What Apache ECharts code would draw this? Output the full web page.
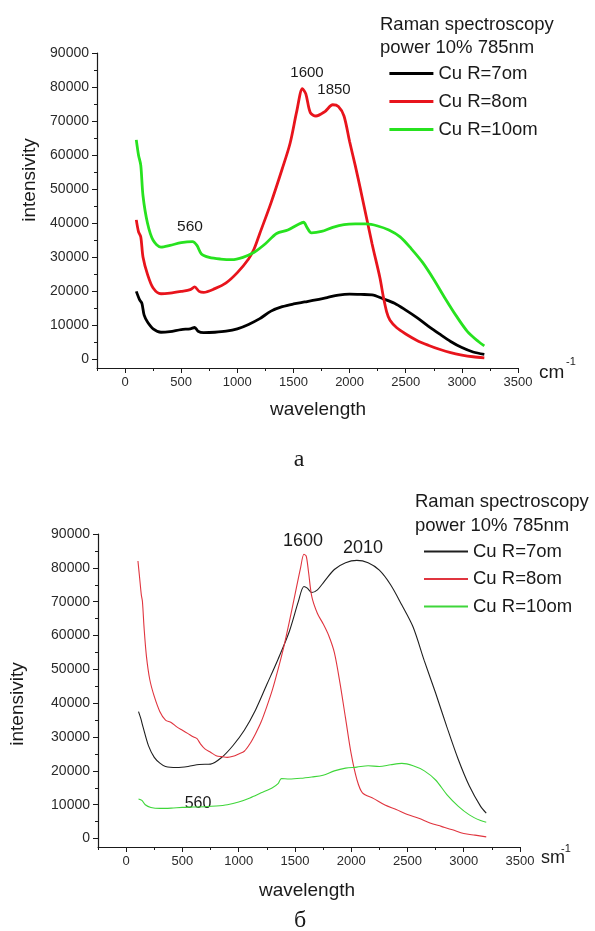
<!DOCTYPE html>
<html>
<head>
<meta charset="utf-8">
<script src="https://cdn.jsdelivr.net/npm/echarts@6/dist/echarts.min.js"></script>
<style>
  html, body { margin: 0; padding: 0; background: #fff; }
  #chart { width: 595px; height: 931px; }
</style>
</head>
<body>
<div id="chart"></div>
<script>
// axis ticks
const xTicks = [0, 500, 1000, 1500, 2000, 2500, 3000, 3500]
const xMinor = [-250, 250, 750, 1250, 1750, 2250, 2750, 3250]
const yTicks = [0, 10000, 20000, 30000, 40000, 50000, 60000, 70000, 80000, 90000]
const yMinor = [5000, 15000, 25000, 35000, 45000, 55000, 65000, 75000, 85000]

const seriesNames = ['Cu R=7om', 'Cu R=8om', 'Cu R=10om']

// (a) upper chart
const topWave7 = [100, 130, 150, 170, 200, 250, 320, 400, 500, 580, 620, 650, 700, 800, 900, 1000, 1100, 1200, 1300, 1400, 1500, 1600, 1700, 1800, 1900, 2000, 2100, 2200, 2300, 2400, 2500, 2600, 2700, 2800, 2900, 3000, 3100, 3200]
const topInt7 = [20000, 17500, 16500, 13000, 11000, 9000, 8000, 8200, 8800, 9000, 9400, 8300, 7900, 8000, 8300, 9000, 10300, 12000, 14200, 15500, 16300, 16900, 17500, 18200, 18900, 19200, 19100, 19000, 17800, 16500, 14500, 12300, 9800, 7500, 5300, 3500, 2200, 1500]

const topWave8 = [100, 120, 140, 160, 200, 250, 320, 400, 500, 580, 620, 660, 700, 800, 900, 1000, 1100, 1150, 1200, 1300, 1400, 1470, 1530, 1580, 1610, 1650, 1700, 1780, 1850, 1900, 1950, 2000, 2050, 2100, 2200, 2270, 2300, 2330, 2360, 2420, 2500, 2600, 2700, 2800, 2900, 3000, 3100, 3200]
const topInt8 = [41000, 37500, 36000, 30000, 25000, 21000, 19300, 19500, 20000, 20500, 21300, 20000, 19700, 20800, 22500, 25500, 29500, 32500, 37000, 46000, 56000, 63500, 73000, 79500, 78000, 72500, 71500, 72800, 74800, 74300, 71500, 64000, 57000, 49500, 34000, 24000, 18500, 14000, 11500, 9300, 7500, 5600, 4200, 3000, 2000, 1300, 800, 500]

const topWave10 = [100, 120, 140, 160, 200, 250, 320, 400, 500, 600, 640, 680, 750, 850, 950, 1050, 1150, 1250, 1350, 1450, 1550, 1590, 1620, 1660, 1750, 1850, 1950, 2050, 2150, 2250, 2350, 2450, 2550, 2650, 2750, 2850, 2950, 3050, 3150, 3200]
const topInt10 = [64500, 60000, 57000, 48000, 40000, 35000, 33000, 33500, 34300, 34600, 33500, 31000, 30000, 29500, 29300, 30000, 31500, 34000, 37000, 38000, 39800, 40300, 38800, 37200, 37600, 38800, 39600, 39800, 39800, 39200, 38000, 36000, 32500, 28500, 23500, 18000, 12800, 8200, 5200, 4000]

// (б) lower chart
const botWave7 = [110, 130, 150, 200, 250, 300, 350, 450, 550, 650, 750, 850, 950, 1050, 1150, 1250, 1350, 1450, 1530, 1580, 1610, 1650, 1700, 1750, 1850, 1950, 2050, 2150, 2250, 2350, 2450, 2550, 2650, 2750, 2850, 2950, 3050, 3150, 3200]
const botInt7 = [37500, 35500, 33000, 27300, 24000, 22300, 21300, 21000, 21300, 21900, 22000, 24000, 27500, 32000, 38000, 45500, 53000, 61200, 70000, 74500, 74000, 72700, 73500, 75500, 79500, 81500, 82200, 81500, 79300, 75000, 69000, 62500, 52500, 43000, 33000, 23500, 15500, 9500, 7500]

const botWave8 = [105, 120, 135, 145, 160, 180, 210, 250, 300, 350, 400, 450, 500, 550, 600, 630, 660, 700, 750, 800, 850, 900, 950, 1000, 1050, 1100, 1150, 1200, 1250, 1300, 1350, 1400, 1450, 1500, 1550, 1580, 1600, 1620, 1650, 1700, 1750, 1800, 1850, 1900, 1950, 2000, 2050, 2100, 2200, 2300, 2400, 2500, 2600, 2700, 2800, 2900, 3000, 3100, 3200]
const botInt8 = [82000, 77000, 72000, 70000, 62000, 54000, 47000, 42000, 37500, 35000, 34300, 33000, 32000, 31000, 30000, 29500, 28000, 26500, 25500, 24500, 24200, 24000, 24300, 25000, 25800, 28000, 31000, 34500, 39000, 44000, 50000, 56500, 64000, 72000, 80000, 84000, 83500, 79000, 71500, 66500, 63500, 60000, 55000, 46000, 35500, 25000, 17500, 13500, 11800, 9900, 8600, 7100, 6000, 4600, 3600, 2600, 1500, 1000, 500]

const botWave10 = [110, 140, 170, 220, 300, 400, 500, 600, 700, 800, 900, 1000, 1100, 1200, 1300, 1350, 1380, 1450, 1550, 1650, 1750, 1850, 1950, 2050, 2150, 2250, 2350, 2450, 2550, 2650, 2750, 2850, 2950, 3050, 3150, 3200]
const botInt10 = [11700, 11300, 10000, 9200, 8900, 9000, 9200, 9300, 9400, 9600, 10000, 10800, 12000, 13500, 15000, 16200, 17700, 17600, 17800, 18200, 18700, 20000, 20800, 21100, 21500, 21300, 21800, 22200, 21500, 20000, 17300, 13000, 9600, 7000, 5300, 4800]

const FONT = '"Liberation Sans", Arial, sans-serif'
const AXIS_COLOR = '#1a1a1a'
const LABEL_COLOR = '#2a2a2a'

function pairs(xs, ys) {
  return xs.map((x, i) => [x, ys[i]])
}

const plain = v => String(v)

// main axis (line, major ticks, labels) + an overlay axis for the minor ticks
function makeXAxes(gridIndex) {
  return [
    {
      type: 'value', gridIndex, position: 'bottom', min: -250, max: 3500,
      axisLine: { onZero: false, lineStyle: { color: AXIS_COLOR, width: 1.2 } },
      axisTick: { customValues: xTicks, length: 5, lineStyle: { color: AXIS_COLOR } },
      axisLabel: { customValues: xTicks, formatter: plain, color: LABEL_COLOR, fontSize: 13, fontFamily: FONT, margin: 8 },
      splitLine: { show: false }
    },
    {
      type: 'value', gridIndex, position: 'bottom', min: -250, max: 3500,
      axisLine: { show: false, onZero: false },
      axisTick: { customValues: xMinor, length: 3, lineStyle: { color: AXIS_COLOR } },
      axisLabel: { show: false },
      splitLine: { show: false }
    }
  ]
}

function makeYAxes(gridIndex) {
  return [
    {
      type: 'value', gridIndex, position: 'left', min: -2500, max: 90000,
      axisLine: { show: true, onZero: false, lineStyle: { color: AXIS_COLOR, width: 1.2 } },
      axisTick: { show: true, customValues: yTicks, length: 5, lineStyle: { color: AXIS_COLOR } },
      axisLabel: { customValues: yTicks, formatter: plain, color: LABEL_COLOR, fontSize: 14, fontFamily: FONT, margin: 8 },
      splitLine: { show: false }
    },
    {
      type: 'value', gridIndex, position: 'left', min: -2500, max: 90000,
      axisLine: { show: false, onZero: false },
      axisTick: { show: true, customValues: yMinor, length: 3, lineStyle: { color: AXIS_COLOR } },
      axisLabel: { show: false },
      splitLine: { show: false }
    }
  ]
}

function lineSeries(name, axisIndex, data, color, width) {
  return {
    name, type: 'line', xAxisIndex: axisIndex, yAxisIndex: axisIndex,
    data, showSymbol: false, symbol: 'none', smooth: 0.3,
    lineStyle: { color, width }, itemStyle: { color }
  }
}

function text(x, y, str, size, extra) {
  return {
    type: 'text', x, y, silent: true,
    style: Object.assign({
      text: str, fontSize: size, fontFamily: FONT, fill: '#1a1a1a',
      align: 'center', verticalAlign: 'middle'
    }, extra || {})
  }
}

const chart = echarts.init(document.getElementById('chart'))

const option = {
  backgroundColor: '#fff',
  animation: false,
  grid: [
    { left: 97, top: 53, width: 421, height: 315 },
    { left: 98, top: 534, width: 422, height: 313 }
  ],
  xAxis: [...makeXAxes(0), ...makeXAxes(1)],
  yAxis: [...makeYAxes(0), ...makeYAxes(1)],
  legend: [
    {
      data: seriesNames, orient: 'vertical', left: 388, top: 64, padding: 0,
      itemWidth: 44, itemHeight: 14, itemGap: 9,
      itemStyle: { opacity: 0 },
      lineStyle: { width: 2.8 },
      textStyle: { fontSize: 18.5, fontFamily: FONT, color: '#1a1a1a' }
    },
    {
      data: seriesNames.map(n => 'b ' + n), orient: 'vertical', left: 423, top: 542, padding: 0,
      itemWidth: 44, itemHeight: 14, itemGap: 8.5,
      itemStyle: { opacity: 0 },
      formatter: n => n.replace(/^b /, ''),
      textStyle: { fontSize: 18.5, fontFamily: FONT, color: '#1a1a1a' }
    }
  ],
  series: [
    lineSeries(seriesNames[0], 0, pairs(topWave7, topInt7), '#000000', 2.8),
    lineSeries(seriesNames[1], 0, pairs(topWave8, topInt8), '#e8141c', 2.8),
    lineSeries(seriesNames[2], 0, pairs(topWave10, topInt10), '#27e21f', 2.8),
    lineSeries('b ' + seriesNames[0], 2, pairs(botWave7, botInt7), '#1f1f1f', 1.1),
    lineSeries('b ' + seriesNames[1], 2, pairs(botWave8, botInt8), '#e0353f', 1.1),
    lineSeries('b ' + seriesNames[2], 2, pairs(botWave10, botInt10), '#3fd63a', 1.1)
  ],
  graphic: [
    // upper chart texts
    text(380, 25, 'Raman spectroscopy', 18.5, { align: 'left' }),
    text(380, 48, 'power 10% 785nm', 18.5, { align: 'left' }),
    text(307, 73, '1600', 15),
    text(334, 90, '1850', 15),
    text(190, 227, '560', 15.5),
    text(318, 410, 'wavelength', 19),
    Object.assign(text(30, 180, 'intensivity', 19), { rotation: Math.PI / 2 }),
    text(539, 373, 'cm', 19, { align: 'left' }),
    text(566, 362, '-1', 11, { align: 'left' }),
    text(299, 460, 'a', 24, { fontFamily: '"Liberation Serif", serif' }),
    // lower chart texts
    text(415, 502, 'Raman spectroscopy', 18.5, { align: 'left' }),
    text(415, 526, 'power 10% 785nm', 18.5, { align: 'left' }),
    text(303, 541, '1600', 18),
    text(363, 548, '2010', 18),
    text(198, 804, '560', 16),
    text(307, 891, 'wavelength', 19),
    Object.assign(text(18, 704, 'intensivity', 19), { rotation: Math.PI / 2 }),
    text(541, 858, 'sm', 18, { align: 'left' }),
    text(561, 849, '-1', 11, { align: 'left' }),
    text(300, 921, 'б', 24, { fontFamily: '"Liberation Serif", serif' })
  ]
}

chart.setOption(option)
</script>
</body>
</html>
